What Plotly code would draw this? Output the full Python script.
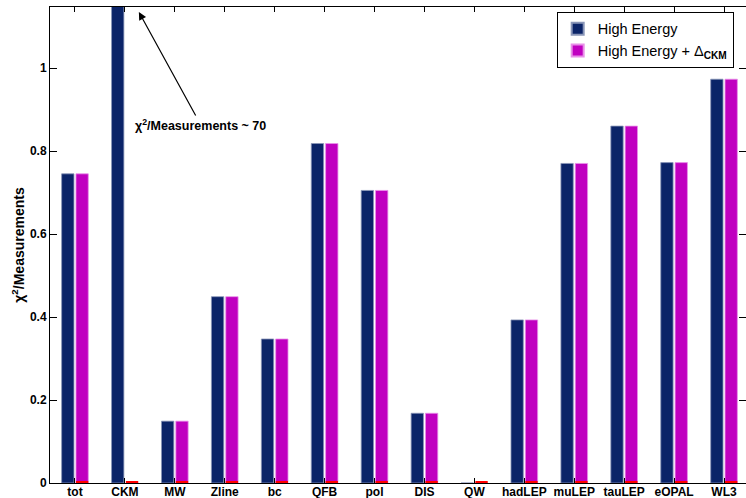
import plotly.graph_objects as go

categories = ["tot", "CKM", "MW", "Zline", "bc", "QFB", "pol", "DIS", "QW",
              "hadLEP", "muLEP", "tauLEP", "eOPAL", "WL3"]
high_energy = [0.745, 70.0, 0.149, 0.449, 0.347, 0.818, 0.705, 0.168, 0.0,
               0.393, 0.770, 0.860, 0.772, 0.973]
high_energy_ckm = [0.745, 0.0, 0.149, 0.449, 0.347, 0.818, 0.705, 0.168, 0.0,
                   0.393, 0.770, 0.860, 0.772, 0.973]
baseline_marks = [0.004] * len(categories)
y_ticks = [0, 0.2, 0.4, 0.6, 0.8, 1.0]
y_tick_labels = ["0", "0.2", "0.4", "0.6", "0.8", "1"]

FONT = "Liberation Sans, Arial, sans-serif"
x = list(range(len(categories)))

fig = go.Figure()
fig.add_trace(go.Bar(
    x=x, y=high_energy, name="High Energy",
    offset=-0.267, width=0.247,
    marker=dict(color="#0b2468", line=dict(color="#8a96b8", width=0.8)),
))
fig.add_trace(go.Bar(
    x=x, y=high_energy_ckm, name="High Energy + Δ<sub><b>CKM</b></sub>",
    offset=0.02, width=0.247,
    marker=dict(color="#c000c0", line=dict(color="#e890e8", width=0.8)),
))
fig.add_trace(go.Bar(
    x=x, y=baseline_marks, showlegend=False, hoverinfo="skip",
    offset=0.02, width=0.247,
    marker=dict(color="#ff0000", line=dict(width=0)),
))

fig.add_annotation(
    x=1.28, y=1.135, xref="x", yref="y",
    ax=62, ay=113, axref="pixel", ayref="pixel",
    text="<b>χ<sup>2</sup>/Measurements ~ 70</b>",
    showarrow=True, arrowhead=2, arrowsize=1.3, arrowwidth=1.2,
    arrowcolor="black",
    font=dict(family=FONT, size=12.5, color="black"),
)

fig.update_layout(
    width=746, height=498,
    margin=dict(l=50, r=0, t=7, b=15),
    barmode="overlay",
    plot_bgcolor="white", paper_bgcolor="white",
    font=dict(family=FONT, color="black"),
    showlegend=True,
    legend=dict(
        x=0.728, y=0.99, xanchor="left", yanchor="top",
        bordercolor="black", borderwidth=1, bgcolor="white",
        font=dict(family=FONT, size=14.5, color="black"),
        tracegroupgap=0, itemsizing="constant",
    ),
)
fig.update_xaxes(
    range=[-0.5, 13.44], automargin=False,
    tickmode="array", tickvals=x, ticktext=categories,
    ticks="inside", ticklen=5, tickwidth=1, tickcolor="black",
    showline=True, linecolor="black", linewidth=1, mirror="ticks",
    showgrid=False, zeroline=False, ticklabelstandoff=-2,
    tickfont=dict(family=FONT, size=12, color="black", weight="bold"),
)
fig.update_yaxes(
    range=[0, 1.147], automargin=False,
    tickmode="array", tickvals=y_ticks, ticktext=y_tick_labels,
    ticks="inside", ticklen=7, tickwidth=1, tickcolor="black",
    showline=True, linecolor="black", linewidth=1, mirror="ticks",
    showgrid=False, zeroline=False,
    tickfont=dict(family=FONT, size=12, color="black", weight="bold"),
    title=dict(text="<b>χ<sup>2</sup>/Measurements</b>",
               font=dict(family=FONT, size=14, color="black"), standoff=2),
)

fig.write_html("out.html", config={"displayModeBar": False},
               post_script="document.body.style.margin='0';document.body.style.padding='0';")
